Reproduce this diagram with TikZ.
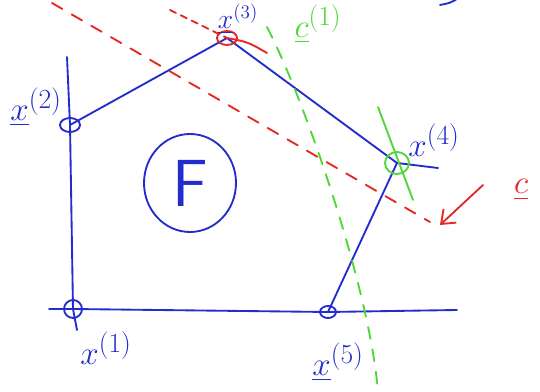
\documentclass[tikz,border=0pt]{standalone}
\usepackage{amsmath}
\usetikzlibrary{arrows.meta}
\definecolor{penblue}{RGB}{35,45,205}
\definecolor{penred}{RGB}{228,40,35}
\definecolor{pengreen}{RGB}{80,215,55}
\tikzset{
  ink/.style={line width=1.4pt, line cap=round, line join=round},
  dashink/.style={ink, dash pattern={on 9pt off 8pt}},
  lbl/.style={inner sep=0.75pt, font=\fontsize{29}{33}\selectfont},
}

\begin{document}
\begin{tikzpicture}[x=0.75pt,y=0.75pt,yscale=-1,xscale=1]
\useasboundingbox (0,0) rectangle (540,392);

%Corner points
\coordinate (x1) at (73,309);
\coordinate (x2) at (70,125);
\coordinate (x3) at (227,38);
\coordinate (x4) at (397,163);
\coordinate (x5) at (328,312);
\coordinate (vtop) at (67,57);
\coordinate (vbot) at (77,330);
\coordinate (hleft) at (49,309);
\coordinate (hright) at (457,310);
\coordinate (tanr) at (438,168);

%Constraint lines
\draw [ink, penblue]  (vtop) -- (x2) -- (x1) -- (vbot) ;
\draw [ink, penblue]  (hleft) -- (x1) -- (x5) -- (hright) ;
%Edges of F
\draw [ink, penblue]  (x2) -- (x3) -- (x4) -- (x5) ;
\draw [ink, penblue]  (x4) -- (tanr) ;
%Vertex marks
\draw [ink, penblue]  (x1) ellipse [x radius=9, y radius=9] ;
\draw [ink, penblue]  (x2) ellipse [x radius=10, y radius=7] ;
\draw [ink, penblue]  (x5) ellipse [x radius=8, y radius=6] ;
\draw [ink, penred]  (x3) ellipse [x radius=10, y radius=7] ;
\draw [ink, pengreen]  (x4) ellipse [x radius=12, y radius=11] ;

%Red level lines
\coordinate (ra) at (52,3);
\coordinate (rb) at (430,222);
\coordinate (rc) at (170,10);
\coordinate (rd) at (267,53);
\draw [dashink, penred]  (ra) -- (rb) ;
\draw [ink, penred, dash pattern={on 5pt off 4pt}]  (rc) -- (x3) ;
\draw [ink, penred]  (x3) .. controls (248,42) .. (rd) ;
%Red arrow
\coordinate (ct) at (483,185);
\coordinate (ch) at (440,225);
\draw [ink, penred, -{Straight Barb[length=9pt, width=14pt]}]  (ct) -- (ch) ;

%Green lines
\coordinate (ga) at (267,27);
\coordinate (gb) at (378,392);
\draw [dashink, pengreen]  (ga) .. controls (305,100) and (370,290) .. (gb) ;
\coordinate (gtop) at (378,107);
\coordinate (gbot) at (413,200);
\draw [ink, pengreen]  (gtop) -- (gbot) ;

%Cut off stroke
\draw [ink, penblue]  (440,5) .. controls (450,3) .. (457,-1) ;

% Text Node
\node (F) at (190,183) [inner sep=0pt, penblue, font=\fontsize{50}{54}\selectfont\sffamily] {F};
\draw [ink, penblue]  (F.center) ellipse [x radius=46, y radius=49] ;
% Text Node
\node (lx1) at (106,348) [lbl, penblue] {$x^{(1)}$};
% Text Node
\node (lx2) at (36,107) [lbl, penblue] {$\underline{x}^{(2)}$};
% Text Node
\node (lx3) at (238,34) [anchor=south, inner sep=0pt, penblue, font=\fontsize{21}{25}\selectfont] {$\underline{x}^{(3)}$};
% Text Node
\node (lx4) at (434,140) [lbl, penblue] {$x^{(4)}$};
% Text Node
\node (lx5) at (338,362) [lbl, penblue] {$\underline{x}^{(5)}$};
% Text Node
\node (lc1) at (318,24) [lbl, pengreen] {$\underline{c}^{(1)}$};
% Text Node
\node (lc) at (521,190) [lbl, penred] {$\underline{c}$};

\end{tikzpicture}
\end{document}
